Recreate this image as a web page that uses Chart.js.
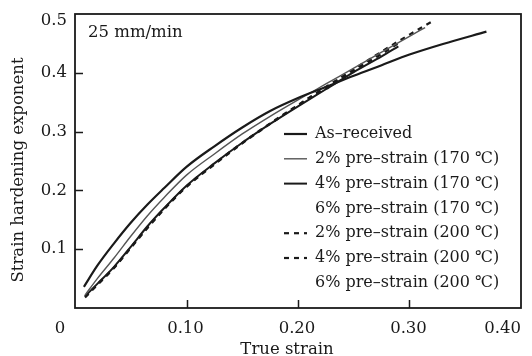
<!DOCTYPE html>
<html>
<head>
<meta charset="utf-8">
<script src="https://cdn.jsdelivr.net/npm/chart.js@4.4.0/dist/chart.umd.min.js"></script>
<style>
  html, body { margin: 0; padding: 0; background: #fff; }
  #wrap { width: 532px; height: 356px; }
</style>
</head>
<body>
<div id="wrap"><canvas id="chart" width="532" height="356"></canvas></div>
<script>
// valores
const xTicks = [0, 0.10, 0.20, 0.30, 0.40];
const xTickLabels = ['0', '0.10', '0.20', '0.30', '0.40'];
const yTicks = [0.1, 0.2, 0.3, 0.4, 0.5];
const yTickLabels = ['0.1', '0.2', '0.3', '0.4', '0.5'];

const asReceivedStrain = [0.008, 0.02, 0.035, 0.05, 0.065, 0.08, 0.10, 0.125, 0.15, 0.175, 0.20, 0.225, 0.25, 0.275, 0.30, 0.33, 0.369];
const asReceivedN      = [0.036, 0.072, 0.110, 0.145, 0.176, 0.204, 0.240, 0.275, 0.307, 0.335, 0.357, 0.376, 0.395, 0.413, 0.431, 0.449, 0.470];

const pre2_170Strain = [0.009, 0.02, 0.035, 0.05, 0.065, 0.08, 0.10, 0.125, 0.15, 0.175, 0.20, 0.225, 0.25, 0.275, 0.30, 0.314];
const pre2_170N      = [0.022, 0.050, 0.085, 0.122, 0.157, 0.188, 0.226, 0.262, 0.296, 0.326, 0.354, 0.381, 0.408, 0.435, 0.462, 0.477];

const pre4_170Strain = [0.009, 0.02, 0.035, 0.05, 0.065, 0.08, 0.10, 0.125, 0.15, 0.175, 0.20, 0.225, 0.25, 0.275, 0.29];
const pre4_170N      = [0.020, 0.041, 0.070, 0.104, 0.139, 0.170, 0.208, 0.246, 0.281, 0.313, 0.343, 0.372, 0.401, 0.428, 0.445];

const pre2_200Strain = [0.009, 0.02, 0.035, 0.05, 0.065, 0.08, 0.10, 0.125, 0.15, 0.175, 0.20, 0.225, 0.25, 0.275, 0.30, 0.32];
const pre2_200N      = [0.018, 0.039, 0.068, 0.102, 0.136, 0.168, 0.206, 0.244, 0.280, 0.313, 0.345, 0.376, 0.406, 0.436, 0.465, 0.487];

const pre4_200Strain = [0.009, 0.02, 0.035, 0.05, 0.065, 0.08, 0.10, 0.125, 0.15, 0.175, 0.20, 0.225, 0.25, 0.275, 0.29];
const pre4_200N      = [0.019, 0.040, 0.069, 0.103, 0.137, 0.169, 0.207, 0.245, 0.281, 0.314, 0.345, 0.375, 0.404, 0.432, 0.450];

// las curvas de 6% no se ven en la figura
const pre6_170Strain = [];
const pre6_170N = [];
const pre6_200Strain = [];
const pre6_200N = [];

const FONT = '"DejaVu Serif", serif';
const INK = '#1a1a1a';

function pts(xs, ys) {
    return xs.map((v, i) => ({ x: v, y: ys[i] }));
}

const datasets = [
    { label: 'As\u2013received', data: pts(asReceivedStrain, asReceivedN), borderColor: INK, borderWidth: 2.2 },
    { label: '2% pre\u2013strain (170 \u2103)', data: pts(pre2_170Strain, pre2_170N), borderColor: '#555', borderWidth: 1.4 },
    { label: '4% pre\u2013strain (170 \u2103)', data: pts(pre4_170Strain, pre4_170N), borderColor: INK, borderWidth: 2 },
    { label: '6% pre\u2013strain (170 \u2103)', data: pts(pre6_170Strain, pre6_170N), borderColor: 'rgba(0,0,0,0)', borderWidth: 1.5 },
    { label: '2% pre\u2013strain (200 \u2103)', data: pts(pre2_200Strain, pre2_200N), borderColor: INK, borderWidth: 2.2, borderDash: [5, 5] },
    { label: '4% pre\u2013strain (200 \u2103)', data: pts(pre4_200Strain, pre4_200N), borderColor: INK, borderWidth: 2.2, borderDash: [5, 5] },
    { label: '6% pre\u2013strain (200 \u2103)', data: pts(pre6_200Strain, pre6_200N), borderColor: 'rgba(0,0,0,0)', borderWidth: 1.5 }
];
datasets.forEach(d => {
    d.pointRadius = 0;
    d.fill = false;
    d.cubicInterpolationMode = 'monotone';
});

// marco, marcas, etiquetas y leyenda dibujados a mano
const framePlugin = {
    id: 'frame',
    afterDraw(chart) {
        const { ctx, chartArea: a, scales: { x, y } } = chart;
        ctx.save();
        ctx.strokeStyle = INK;
        ctx.lineWidth = 1.8;
        ctx.strokeRect(a.left, a.top, a.right - a.left, a.bottom - a.top);

        ctx.lineWidth = 1.5;
        ctx.beginPath();
        xTicks.forEach(v => {
            if (v <= 0 || v >= 0.4) return;
            const px = Math.round(x.getPixelForValue(v)) + 0.5;
            ctx.moveTo(px, a.bottom);
            ctx.lineTo(px, a.bottom - 8);
        });
        yTicks.forEach(v => {
            if (v >= 0.5) return;
            const py = Math.round(y.getPixelForValue(v)) + 0.5;
            ctx.moveTo(a.left, py);
            ctx.lineTo(a.left + 8, py);
        });
        ctx.stroke();

        ctx.fillStyle = INK;
        ctx.font = '16.5px ' + FONT;
        ctx.textBaseline = 'middle';
        xTicks.forEach((v, i) => {
            const px = x.getPixelForValue(v);
            if (i === 0) { ctx.textAlign = 'center'; ctx.fillText(xTickLabels[i], px - 15, 329); }
            else if (i === xTicks.length - 1) { ctx.textAlign = 'right'; ctx.fillText(xTickLabels[i], px, 329); }
            else { ctx.textAlign = 'center'; ctx.fillText(xTickLabels[i], px - 1, 329); }
        });
        ctx.textAlign = 'right';
        yTicks.forEach((v, i) => {
            let py = y.getPixelForValue(v);
            if (v >= 0.5) py += 7;
            ctx.fillText(yTickLabels[i], 67, py);
        });

        ctx.textAlign = 'center';
        ctx.fillText('True strain', 287, 350);
        ctx.save();
        ctx.translate(19, 170);
        ctx.rotate(-Math.PI / 2);
        ctx.fillText('Strain hardening exponent', 0, 0);
        ctx.restore();

        ctx.textAlign = 'left';
        ctx.fillText('25 mm/min', 88, 33);

        // leyenda
        ctx.font = '16px ' + FONT;
        const rowY = 134, rowH = 24.8;
        chart.data.datasets.forEach((d, i) => {
            const yy = rowY + i * rowH;
            ctx.save();
            ctx.strokeStyle = d.borderColor;
            ctx.lineWidth = d.borderWidth;
            ctx.setLineDash(d.borderDash || []);
            ctx.beginPath();
            ctx.moveTo(284, yy);
            ctx.lineTo(307, yy);
            ctx.stroke();
            ctx.restore();
            ctx.fillText(d.label, 315, yy);
        });
        ctx.restore();
    }
};

const chart = new Chart(document.getElementById('chart').getContext('2d'), {
    type: 'line',
    data: { datasets: datasets },
    options: {
        responsive: false,
        animation: false,
        layout: { padding: { left: 75, right: 11, top: 14, bottom: 48 } },
        plugins: { legend: { display: false }, tooltip: { enabled: false } },
        scales: {
            x: { type: 'linear', min: 0, max: 0.4, display: false },
            y: { type: 'linear', min: 0, max: 0.5, display: false }
        }
    },
    plugins: [framePlugin]
});
</script>
</body>
</html>
